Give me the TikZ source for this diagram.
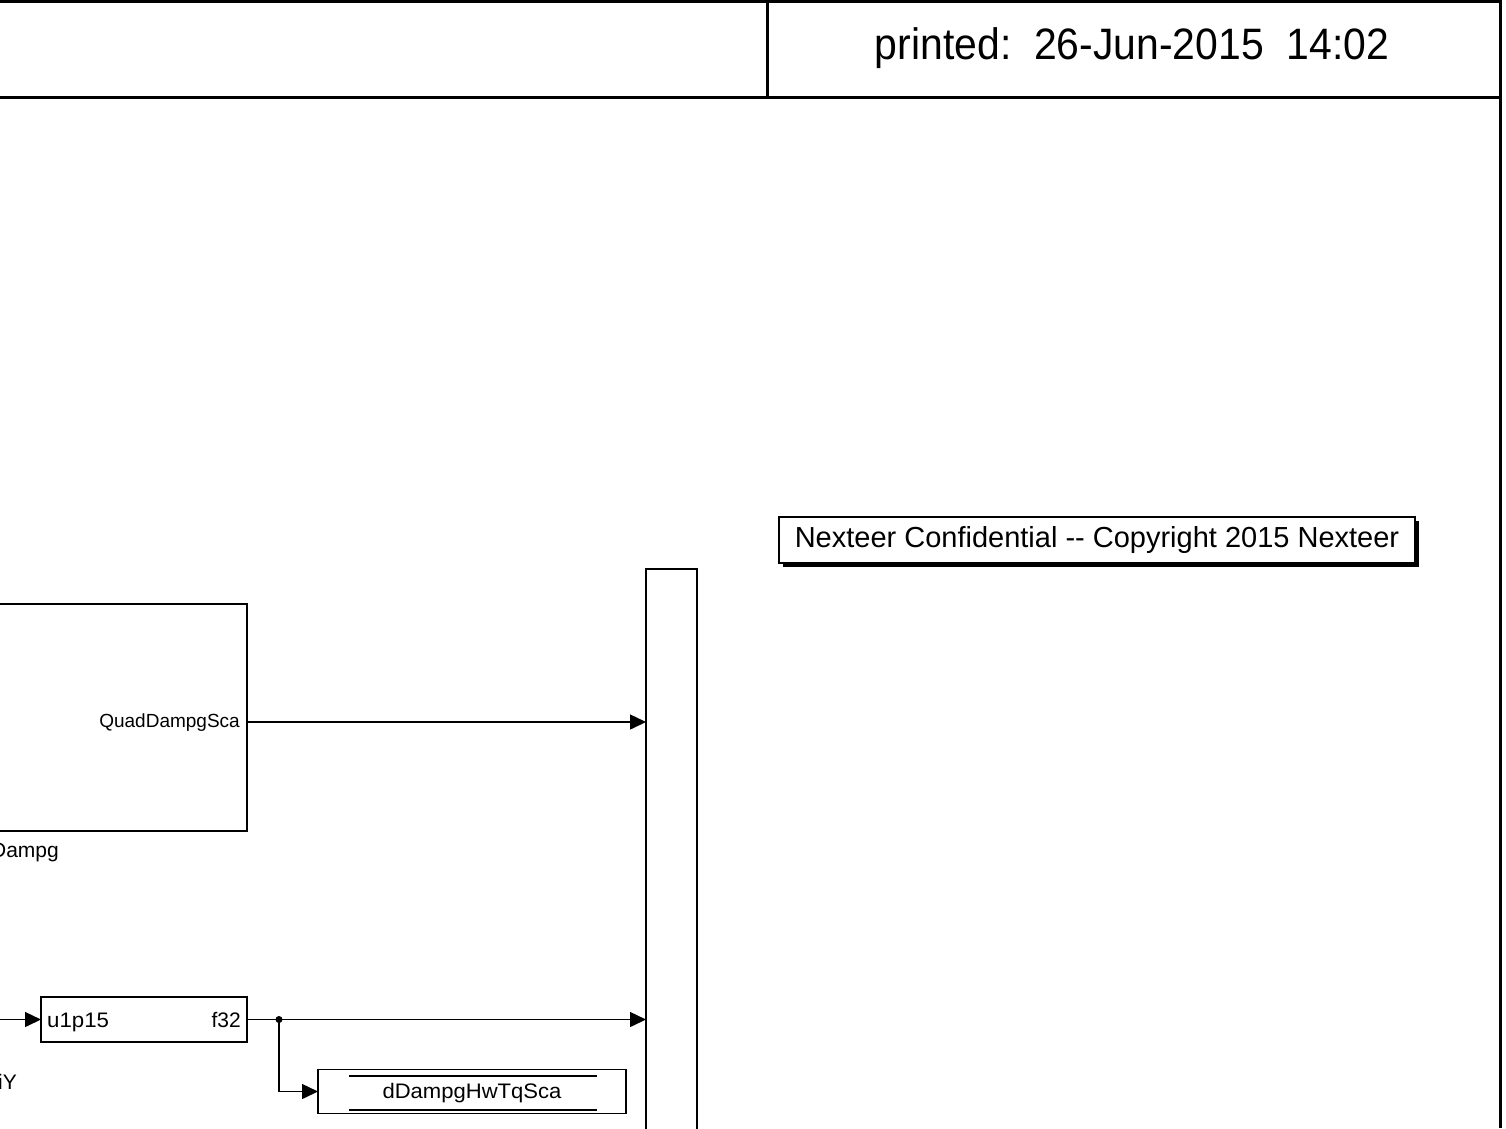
\documentclass[tikz,border=0pt]{standalone}
\usepackage{fontspec}
\setmainfont{Liberation Sans}
\usetikzlibrary{arrows.meta}
\begin{document}
\begin{tikzpicture}[x=1pt,y=-1pt,
  blk/.style={draw,line width=1.8pt,inner sep=0pt,outer sep=0pt,fill=white},
  conn/.style={line width=1.5pt,-{Triangle[length=16pt,width=15pt]}},
  frame/.style={line width=3pt},
  small/.style={font=\fontsize{19}{21}\selectfont,inner sep=0pt},
  mid/.style={font=\fontsize{21}{23}\selectfont,inner sep=0pt}]
\useasboundingbox (0,0) rectangle (1506,1128);
% header frame
\draw[frame] (0,1.5) -- (1500,1.5);
\draw[frame] (0,97) -- (1500,97);
\draw[frame] (767,0) -- (767,97);
\draw[frame] (1500,0) -- (1500,1128);
\node[inner sep=0pt,font=\fontsize{44}{48}\selectfont] (printed) at (1132,48)
  {\scalebox{0.93}[1]{printed:\ \ 26-Jun-2015\ \ 14:02}};
% confidential box
\fill (783,521) rectangle (1419,567);
\node[blk,minimum width=636pt,minimum height=46pt,font=\fontsize{29}{32}\selectfont] (conf) at (1097,540)
  {\raisebox{-3pt}{\scalebox{1.0}[1]{Nexteer Confidential -{}- Copyright 2015 Nexteer}}};
% big subsystem block
\node[blk,minimum width=397pt,minimum height=227pt] (quad) at (48.5,717.5) {};
\node[small,anchor=east] (quadport) at (240,723) {QuadDampgSca};
\node[mid,anchor=base east] (quadlbl) at (59,857) {Dampg};
% mux
\node[blk,minimum width=51pt,minimum height=681pt] (mux) at (671.5,909.5) {};
% convert block
\node[blk,minimum width=206pt,minimum height=45pt] (conv) at (144,1019.5) {};
\node[mid,anchor=base west] (convin) at (47,1027) {\scalebox{1.06}[1]{u1p15}};
\node[mid,anchor=base east] (convout) at (241,1027) {f32};
\node[mid,anchor=base east] (iylbl) at (17,1089) {iY};
% display block
\node[blk,minimum width=308pt,minimum height=44pt] (disp) at (472,1091.5) {};
\draw[line width=1.5pt] (349,1076) -- (597,1076);
\draw[line width=1.5pt] (349,1110) -- (597,1110);
\node[mid,anchor=base] (disptxt) at (472,1098) {\scalebox{1.05}[1]{dDampgHwTqSca}};
% connectors
\coordinate (y1) at (0,722);
\draw[conn] (quad.east |- y1) -- (mux.west |- y1);
\coordinate (in) at (-5,1019.5);
\draw[conn] (in) -- (conv.west);
\draw[conn] (conv.east) -- (mux.west |- conv.east);
\coordinate (j) at (279,1019.5);
\fill (j) circle (3.5pt);
\draw[conn] (j) |- (disp.west);
\end{tikzpicture}
\end{document}
